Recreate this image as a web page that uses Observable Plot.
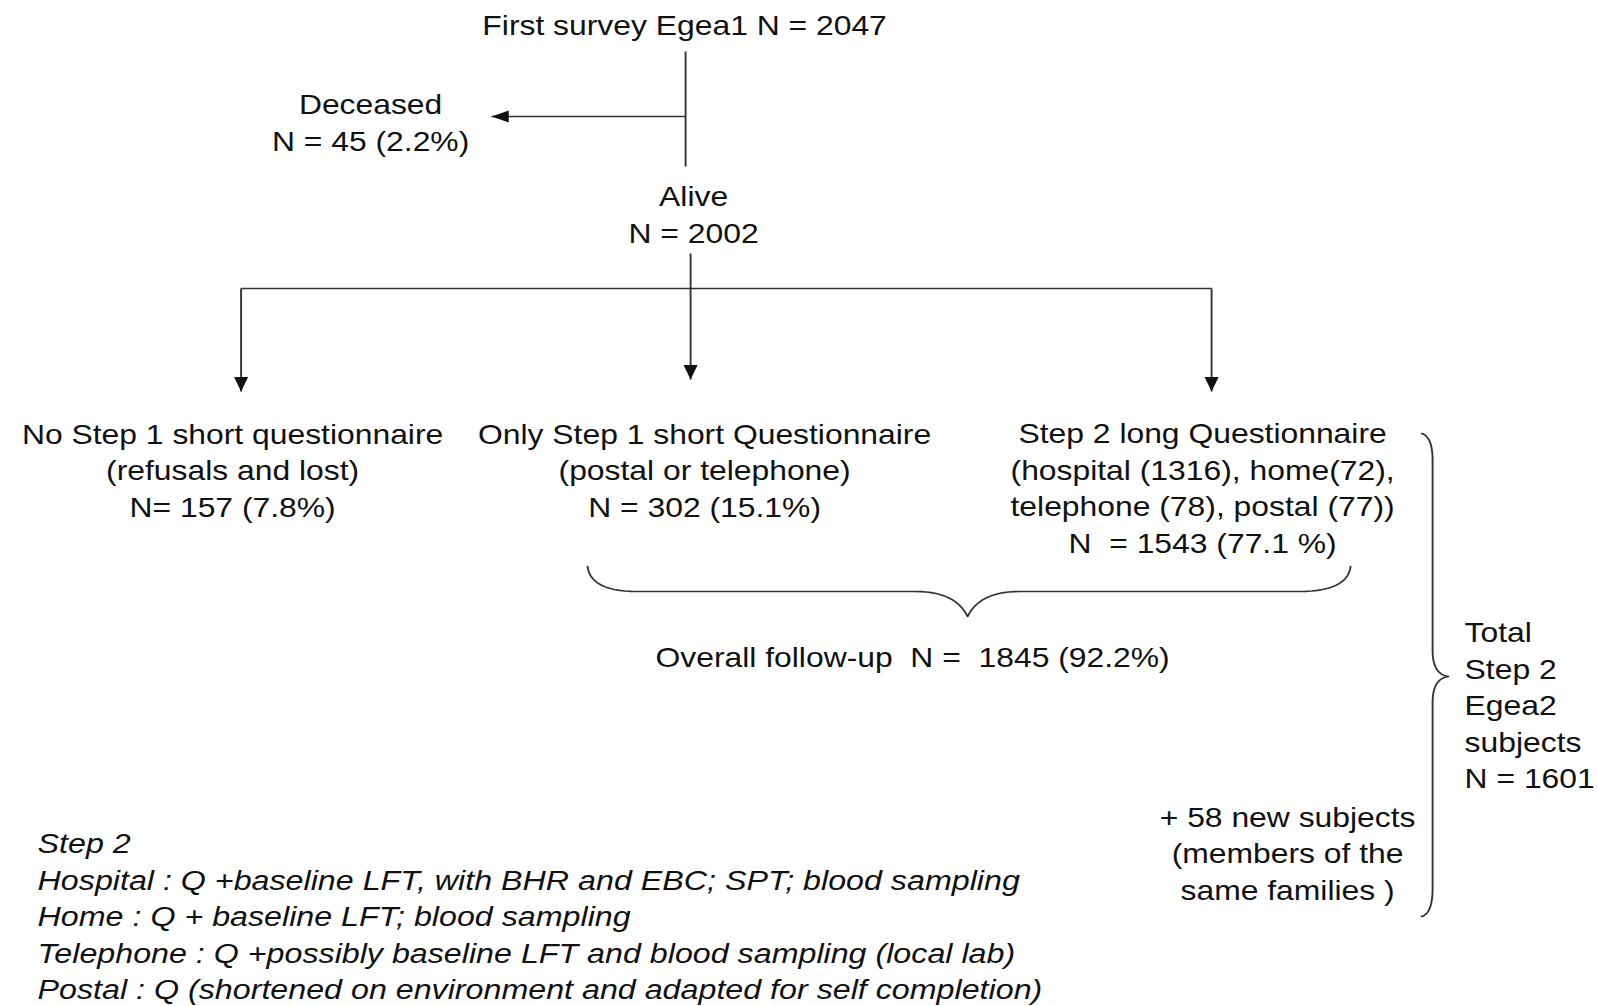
<!DOCTYPE html>
<html>
<head>
<meta charset="utf-8">
<script src="https://cdn.jsdelivr.net/npm/d3@7"></script>
<script src="https://cdn.jsdelivr.net/npm/@observablehq/plot@0.6"></script>
<style>
  html, body { margin: 0; padding: 0; background: #fff; }
  svg text { white-space: pre; }
</style>
</head>
<body>
<div id="chart"></div>
<script>
const surveyNames = ["First survey Egea1", "Deceased", "Alive"];
const surveyCounts = [2047, 45, 2002];
const deceasedPct = [2.2];

const branchTitles = ["No Step 1 short questionnaire", "Only Step 1 short Questionnaire", "Step 2 long Questionnaire"];
const branchDetails = ["(refusals and lost)", "(postal or telephone)", ""];
const branchCounts = [157, 302, 1543];
const branchPcts = ["7.8%", "15.1%", "77.1 %"];

const step2Modes = ["hospital", "home", "telephone", "postal"];
const step2ModeCounts = [1316, 72, 78, 77];

const overallLabel = "Overall follow-up";
const overallCount = [1845];
const overallPct = ["92.2%"];

const newSubjects = [58];
const totalStep2 = [1601];

const step2Notes = [
  "Step 2",
  "Hospital : Q +baseline LFT, with BHR and EBC; SPT; blood sampling",
  "Home : Q + baseline LFT; blood sampling",
  "Telephone : Q +possibly baseline LFT and blood sampling (local lab)",
  "Postal : Q (shortened on environment and adapted for self completion)"
];

// ---------- TEXT built from the data ----------
const centeredTexts = [
  `${surveyNames[0]} N = ${surveyCounts[0]}`,
  `${surveyNames[1]}\nN = ${surveyCounts[1]} (${deceasedPct[0]}%)`,
  `${surveyNames[2]}\nN = ${surveyCounts[2]}`,
  `${branchTitles[0]}\n${branchDetails[0]}\nN= ${branchCounts[0]} (${branchPcts[0]})`,
  `${branchTitles[1]}\n${branchDetails[1]}\nN = ${branchCounts[1]} (${branchPcts[1]})`,
  `${branchTitles[2]}\n(${step2Modes[0]} (${step2ModeCounts[0]}), ${step2Modes[1]}(${step2ModeCounts[1]}),\n${step2Modes[2]} (${step2ModeCounts[2]}), ${step2Modes[3]} (${step2ModeCounts[3]}))\nN  = ${branchCounts[2]} (${branchPcts[2]})`,
  `${overallLabel}  N =  ${overallCount[0]} (${overallPct[0]})`,
  `+ ${newSubjects[0]} new subjects\n(members of the\nsame families )`
];
const totalText = `Total\nStep 2\nEgea2\nsubjects\nN = ${totalStep2[0]}`;

// ---------- LAYOUT (pixel space of the 1598 x 1006 figure) ----------
const centeredPos = [
  {x: 684, y: 22.5},
  {x: 370, y: 120.5},
  {x: 693, y: 212.5},
  {x: 232, y: 468},
  {x: 704, y: 468},
  {x: 1202, y: 486},
  {x: 912, y: 655},
  {x: 1287, y: 851}
];
const centeredRows = centeredTexts.map((t, i) => ({text: t, ...centeredPos[i]}));
const totalRow = [{text: totalText, x: 1464, y: 703}];
const noteRow = [{text: step2Notes.join("\n"), x: 37, y: 914}];

const segments = [
  {x1: 685, y1: 51, x2: 685, y2: 166, head: false},
  {x1: 685, y1: 116, x2: 491, y2: 116, head: true, rot: 90},
  {x1: 690, y1: 253, x2: 690, y2: 379, head: true, rot: 0},
  {x1: 240.5, y1: 288, x2: 1211, y2: 288, head: false},
  {x1: 240.5, y1: 288, x2: 240.5, y2: 391, head: true, rot: 0},
  {x1: 1211, y1: 288, x2: 1211, y2: 391, head: true, rot: 0}
];
const heads = segments.filter(d => d.head).map(d => ({x: d.x2, y: d.y2, rot: d.rot}));

// quadratic bezier helper for the braces
function quad(p0, c, p1, n = 14) {
  const out = [];
  for (let i = 0; i <= n; i++) {
    const t = i / n, u = 1 - t;
    out.push([u*u*p0[0] + 2*u*t*c[0] + t*t*p1[0], u*u*p0[1] + 2*u*t*c[1] + t*t*p1[1]]);
  }
  return out;
}
// horizontal brace under the two right branches
const hBrace = [
  ...quad([587, 566], [590, 591], [637, 591]),
  ...quad([915, 591], [955, 591], [967, 616]),
  ...quad([967, 616], [979, 591], [1019, 591]),
  ...quad([1298, 591], [1347, 591], [1350, 566])
].map(([x, y]) => ({x, y, id: "h"}));
// vertical brace on the right
const vBrace = [
  ...quad([1421, 433], [1432, 436], [1432, 460]),
  ...quad([1432, 650], [1432, 674], [1448, 676]),
  ...quad([1448, 676], [1432, 678], [1432, 702]),
  ...quad([1432, 888], [1432, 913], [1421, 916])
].map(([x, y]) => ({x, y, id: "v"}));

// filled arrowhead symbol with its tip at the anchor point (points down)
const arrowHead = {
  draw(ctx, size) {
    const r = Math.sqrt(size / Math.PI);
    const h = 2.8 * r, w = 2.3 * r;
    ctx.moveTo(0, 0);
    ctx.lineTo(-w / 2, -h);
    ctx.lineTo(w / 2, -h);
    ctx.closePath();
  }
};

// ---------- PLOT ----------
const W = 1598, H = 1006, SX = 1.18;
const Wv = Math.round(W / SX);
const ink = "#111", lineInk = "#333";
const FS = 27, LH = 36.5 / 27;

const chart = Plot.plot({
  width: Wv, height: H, margin: 0,
  x: {domain: [0, W], range: [0, Wv], axis: null},
  y: {domain: [0, H], range: [0, H], axis: null},
  style: {fontFamily: "'Liberation Sans', Arial, Helvetica, sans-serif", background: "#fff", color: ink},
  marks: [
    Plot.link(segments, {x1: "x1", y1: "y1", x2: "x2", y2: "y2", stroke: lineInk, strokeWidth: 1.6}),
    Plot.dot(heads, {x: "x", y: "y", symbol: arrowHead, r: 5.2, fill: "#111", stroke: "none", rotate: "rot"}),
    Plot.line(hBrace, {x: "x", y: "y", z: "id", stroke: lineInk, strokeWidth: 1.6, curve: "linear"}),
    Plot.line(vBrace, {x: "x", y: "y", z: "id", stroke: lineInk, strokeWidth: 1.6, curve: "linear"}),
    Plot.text(centeredRows, {x: "x", y: "y", text: "text", textAnchor: "middle", fontSize: FS, lineHeight: LH, fill: ink, lineAnchor: "middle"}),
    Plot.text(totalRow, {x: "x", y: "y", text: "text", textAnchor: "start", fontSize: FS, lineHeight: LH, fill: ink, lineAnchor: "middle"}),
    Plot.text(noteRow, {x: "x", y: "y", text: "text", textAnchor: "start", fontSize: 27.3, fontStyle: "italic", lineHeight: 36.5 / 27.3, fill: ink, lineAnchor: "middle"})
  ]
});

chart.setAttribute("viewBox", `0 0 ${Wv} ${H}`);
chart.setAttribute("width", W);
chart.setAttribute("height", H);
chart.setAttribute("preserveAspectRatio", "none");
chart.style.width = W + "px";
chart.style.height = H + "px";
chart.style.maxWidth = "none";
document.getElementById("chart").appendChild(chart);
</script>
</body>
</html>
